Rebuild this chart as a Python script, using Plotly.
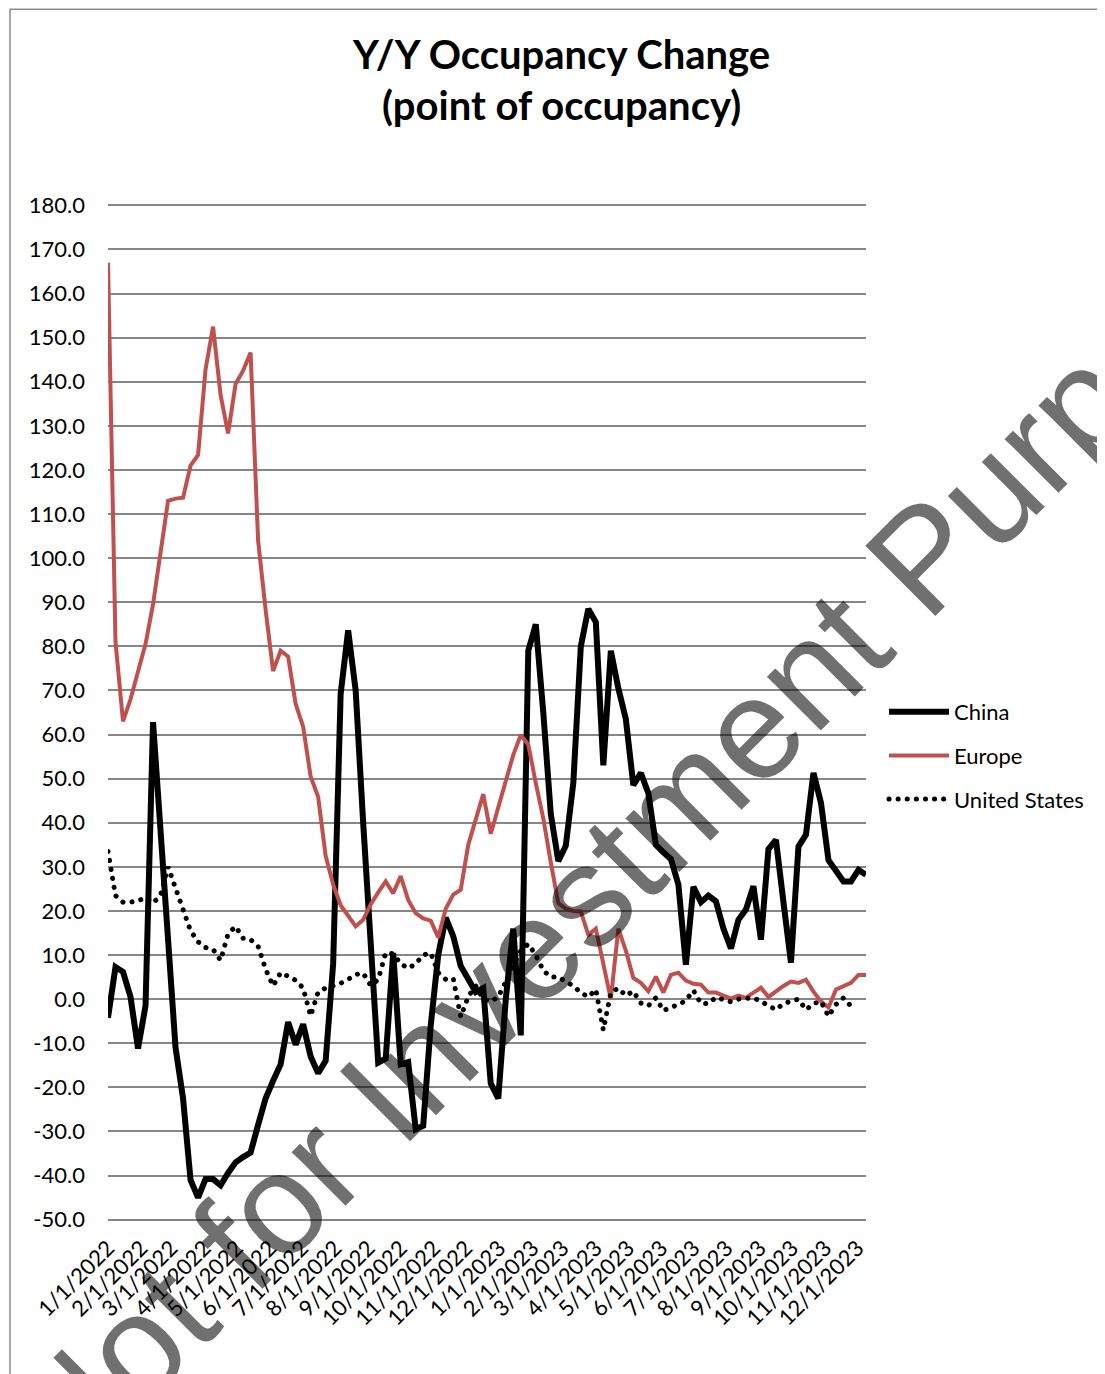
import pandas as pd
import plotly.graph_objects as go

# ---- data (weekly, point of occupancy, Y/Y change) ----
week_start = "2022-01-01"
n_weeks = 102

china = [-4.2, 7.3, 6.2, 0.5, -11.2, -1.5, 62.8, 37.8, 15, -11,
         -22.5, -41, -45, -40.8, -40.8, -42.2, -39.4, -37, -35.8, -34.8,
         -28.5, -22.5, -18.5, -14.8, -5.2, -10.3, -5.7, -13, -16.8, -14,
         8, 69.2, 83.6, 70, 40, 11, -14.4, -13.5, 10.5, -14.8,
         -14.3, -29.5, -28.7, -6, 10, 18.5, 14.3, 7.5, 4.8, 1.6,
         2.5, -19.1, -22.5, 0, 16, -8.2, 79, 85, 65, 42,
         31.3, 34.8, 49, 80, 88.5, 85.5, 53, 79, 70.5, 63.5,
         48.5, 51.3, 46.7, 35, 33.3, 31.8, 26, 7.8, 25.5, 22,
         23.5, 22.2, 16, 11.5, 18, 20.3, 25.6, 13.5, 34, 36.1,
         22, 8.3, 34.6, 37.3, 51.3, 44.5, 31.5, 29.3, 26.7, 26.7,
         29.3, 28.2]

europe = [167, 81, 63, 68, 74.3, 80.5, 89.5, 102, 113, 113.5,
          113.7, 121, 123.4, 142.8, 152.5, 137, 128.3, 139.5, 142.5, 146.6,
          104, 88.3, 74.4, 79, 77.7, 67, 61.8, 50.5, 45.9, 32.5,
          26, 21.3, 18.7, 16.5, 18, 21.5, 24.2, 26.7, 24, 27.9,
          22.5, 19.5, 18.3, 17.8, 14, 20.5, 23.7, 24.8, 35, 41,
          46.5, 37.5, 43.5, 50, 55.4, 59.9, 57.7, 49, 41, 31,
          21.8, 20.5, 20, 19.9, 14.6, 16, 7.5, 0, 16, 11,
          4.8, 3.7, 1.8, 5.1, 1.5, 5.5, 6, 4.2, 3.5, 3.3,
          1.5, 1.5, 0.8, 0.1, 0.8, 0.3, 1.5, 2.6, 0.5, 1.8,
          3, 4, 3.7, 4.4, 1.7, -0.5, -1.9, 2.2, 2.9, 3.7,
          5.5, 5.5]

united_states = [33.5, 23.5, 22, 22, 22.3, 23, 21.8, 23.5, 30, 25.3,
                 20.5, 15.5, 13, 11.7, 11.3, 8.8, 14.8, 16.5, 13.8, 13.5,
                 12, 6.8, 3, 6, 5.2, 4.3, 2.5, -3.8, 1.6, 2.5,
                 3, 3.6, 4.5, 5.6, 5.9, 3.1, 4.4, 10.5, 10.3, 8,
                 7, 8, 10, 10.5, 6, 4.5, 4.7, -4, 0.6, 3,
                 0, -0.5, 0.5, 4, 8, 11, 12.5, 10, 6.5, 5,
                 5, 4, 3, 1.5, 0.5, 2.2, -7, 1.5, 2.5, 0.8,
                 1.8, -0.9, -1.5, 0.3, -2.6, -1.8, -1.3, -0.3, 2, -1,
                 -1, 0.4, 0, -0.6, 0, 0.2, 0.3, -0.5, -1.5, -2.4,
                 -1, -0.5, 0, -2.4, -1, -0.5, -3.9, -1.2, 0.3, -1.6,
                 None, None]

month_ticks = pd.date_range("2022-01-01", "2023-12-01", freq="MS")
month_labels = [f"{d.month}/{d.day}/{d.year}" for d in month_ticks]
y_ticks = list(range(-50, 181, 10))
y_labels = [f"{v:.1f}" for v in y_ticks]
y_min, y_max = -50, 180

title_line1 = "Y/Y Occupancy Change"
title_line2 = "(point of occupancy)"
watermark = "Not for Investment Purposes"

dates = pd.date_range(week_start, periods=n_weeks, freq="7D")

FONT = "Lato, 'Open Sans', sans-serif"
OFF = 8                      # default page body margin
PAGE_W, PAGE_H = 1105, 1374
W, H = PAGE_W - OFF, PAGE_H - OFF
PAD_U = 0.3                  # small range padding so edge gridlines show
PX_PER_U = (1220 - 205) / (y_max - y_min)
# plot area in page pixels
PL, PR = 108, 866
PT = 205 - PAD_U * PX_PER_U
PB = 1220 + PAD_U * PX_PER_U
L, R, T, B = PL - OFF, PR - OFF, PT - OFF, PB - OFF


def px_x(p):
    """page x pixel -> paper coordinate"""
    return (p - OFF - L) / (R - L)


def px_y(p):
    """page y pixel -> paper coordinate"""
    return (B - (p - OFF)) / (B - T)


DOT_DASH = "4px,5px"

fig = go.Figure()
fig.add_trace(go.Scatter(x=dates, y=china, name="China", mode="lines",
                         line=dict(color="#000000", width=6),
                         legendgroup="a"))
fig.add_trace(go.Scatter(x=dates, y=europe, name="Europe", mode="lines",
                         line=dict(color="#C0504D", width=4),
                         legendgroup="b"))
fig.add_trace(go.Scatter(x=dates, y=united_states, name="United States",
                         mode="lines", connectgaps=False,
                         line=dict(color="#000000", width=5, dash=DOT_DASH),
                         legendgroup="c"))

fig.update_layout(
    width=W, height=H, autosize=False,
    margin=dict(l=L, r=W - R, t=T, b=H - B, pad=0, autoexpand=False),
    paper_bgcolor="white", plot_bgcolor="white",
    font=dict(family=FONT, size=22, color="#000000"),
    showlegend=True,
    legend=dict(x=px_x(884), y=px_y(691), xanchor="left", yanchor="top",
                font=dict(family=FONT, size=22, color="#000000"),
                traceorder="grouped", tracegroupgap=12,
                itemwidth=60, bgcolor="rgba(0,0,0,0)"),
    xaxis=dict(type="date", range=[dates[0], dates[-1]],
               tickmode="array", tickvals=month_ticks, ticktext=month_labels,
               tickangle=-45, showgrid=False, zeroline=False, showline=False,
               ticks="", ticklabelstandoff=9, automargin=False,
               tickfont=dict(family=FONT, size=22, color="#000000")),
    yaxis=dict(range=[y_min - PAD_U, y_max + PAD_U], tickmode="array",
               tickvals=y_ticks, ticktext=y_labels, showgrid=True,
               gridcolor="#868686", gridwidth=2, zeroline=False,
               showline=False, ticks="", ticklabelstandoff=22,
               automargin=False,
               tickfont=dict(family=FONT, size=22, color="#000000")),
)

# title (two lines)
for txt, yc in ((title_line1, 54), (title_line2, 105)):
    fig.add_annotation(text=txt, xref="paper", yref="paper",
                       x=px_x(561), y=px_y(yc), showarrow=False,
                       xanchor="center", yanchor="middle",
                       font=dict(family=FONT, size=40, color="#000000",
                                 weight="bold"))

# chart frame
fig.add_shape(type="rect", xref="paper", yref="paper",
              x0=px_x(10), x1=px_x(1140), y0=px_y(1400), y1=px_y(8.8),
              line=dict(color="#8c8c8c", width=1.5), fillcolor="rgba(0,0,0,0)",
              layer="below")

# watermark
fig.add_annotation(text=watermark, xref="paper", yref="paper",
                   x=px_x(677), y=px_y(805), showarrow=False,
                   textangle=-45, xanchor="center", yanchor="middle",
                   font=dict(family="Liberation Sans, Arial, sans-serif",
                             size=144, color="rgba(0,0,0,0.56)"))

# turn the dashed US line into round dots (Excel "round dot" style)
post = """
document.querySelectorAll('path').forEach(function(e){
  var d = e.style.strokeDasharray;
  if (d && d.replace(/\\s/g, '') === '4px,5px') {
    e.style.strokeLinecap = 'round';
    e.style.strokeDasharray = '0.1px,9px';
  }
});
"""

fig.write_html("out.html", post_script=post)
